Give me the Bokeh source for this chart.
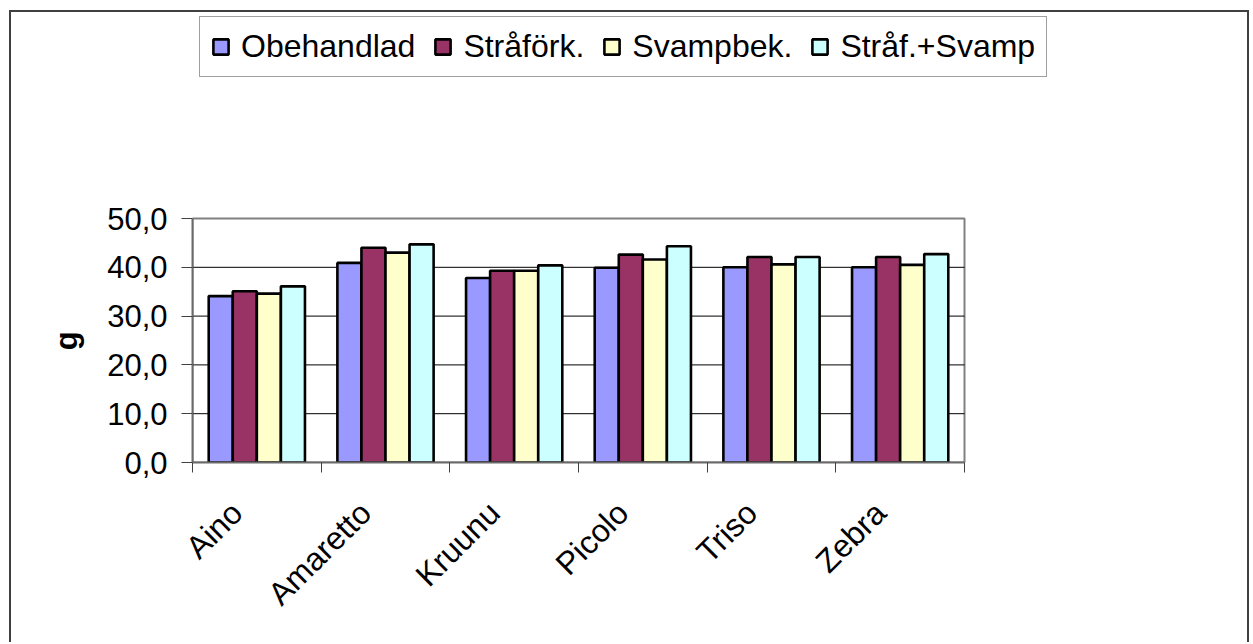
import numpy as np
from bokeh.plotting import figure
from bokeh.models import (ColumnDataSource, FixedTicker, Range1d, Legend, LegendItem,
                          BoxAnnotation)
from bokeh.transform import dodge
from bokeh.embed import file_html
from bokeh.resources import INLINE

categories = ["Aino", "Amaretto", "Kruunu", "Picolo", "Triso", "Zebra"]
series_names = ["Obehandlad", "Stråförk.", "Svampbek.", "Stråf.+Svamp"]
obehandlad = [34.1, 40.9, 37.8, 39.9, 40.0, 40.0]
strafork = [35.1, 44.0, 39.3, 42.6, 42.1, 42.1]
svampbek = [34.6, 43.0, 39.3, 41.6, 40.6, 40.5]
straf_svamp = [36.1, 44.7, 40.4, 44.3, 42.1, 42.7]
y_ticks = [0, 10, 20, 30, 40, 50]
y_tick_labels = ["0,0", "10,0", "20,0", "30,0", "40,0", "50,0"]
y_title = "g"

colors = ["#9999FF", "#993366", "#FFFFCC", "#CCFFFF"]
FONT = "Liberation Sans"
FS = "31px"

# layout (pixels)
W, H = 1240, 632
ML, MB = 181, 182
AREA_W, AREA_H = 772, 244        # plot area size in pixels
n = len(categories)
ymax = y_ticks[-1]
frame_w = W - ML
frame_h = H - MB
x_end = n * frame_w / AREA_W
y_end = ymax * frame_h / AREA_H

centers = [i + 0.5 for i in range(n)]
label_pos = [c - 0.155 for c in centers]
source = ColumnDataSource(dict(x=centers, s0=obehandlad, s1=strafork, s2=svampbek, s3=straf_svamp))

p = figure(width=W, height=H, output_backend="svg", toolbar_location=None,
           x_range=Range1d(0, x_end), y_range=Range1d(0, y_end),
           min_border_left=ML, min_border_right=0, min_border_top=0, min_border_bottom=MB)
p.styles = {"margin-left": "9px", "margin-top": "10px",
            "border-top": "2px solid #404040", "border-left": "2px solid #404040",
            "border-right": "2px solid #404040"}
p.outline_line_color = None
p.xgrid.visible = False
p.ygrid.visible = False

# gridlines inside the plot area
gy = y_ticks[1:-1]
p.segment(x0=[0] * len(gy), x1=[n] * len(gy), y0=gy, y1=gy, line_color="black", line_width=1)

# plot-area border
p.add_layout(BoxAnnotation(left=0, right=n, bottom=0, top=ymax, fill_alpha=0,
                           line_color="#808080", line_alpha=1.0, line_width=2,
                           level="underlay"))

bw = 0.187
offsets = [-1.5 * bw, -0.5 * bw, 0.5 * bw, 1.5 * bw]
renderers = []
for k, (col, c) in enumerate(zip(["s0", "s1", "s2", "s3"], colors)):
    r = p.vbar(x=dodge("x", offsets[k], range=p.x_range), top=col, width=bw, bottom=0,
               source=source, fill_color=c, line_color="black", line_width=2.6)
    renderers.append(r)

# x axis
p.xaxis.bounds = (0, n)
p.xaxis.ticker = FixedTicker(ticks=label_pos, minor_ticks=list(range(n + 1)))
p.xaxis.major_label_overrides = {c: lab for c, lab in zip(label_pos, categories)}
p.xaxis.major_tick_out = 0
p.xaxis.major_tick_in = 0
p.xaxis.minor_tick_out = 10
p.xaxis.minor_tick_in = 0
p.xaxis.minor_tick_line_color = "#404040"
p.xaxis.major_label_orientation = np.pi / 4
p.xaxis.major_label_standoff = 35
p.xaxis.major_label_text_font = FONT
p.xaxis.major_label_text_font_size = "32px"
p.xaxis.major_label_text_color = "black"
p.xaxis.axis_line_color = "#6a6a6a"
p.xaxis.axis_line_width = 2

# y axis
p.yaxis.bounds = (0, ymax)
p.yaxis.ticker = FixedTicker(ticks=y_ticks, minor_ticks=[])
p.yaxis.major_label_overrides = {t: l for t, l in zip(y_ticks, y_tick_labels)}
p.yaxis.major_tick_out = 11
p.yaxis.major_tick_in = 0
p.yaxis.major_tick_line_color = "#404040"
p.yaxis.major_label_standoff = 14
p.yaxis.major_label_text_font = FONT
p.yaxis.major_label_text_font_size = FS
p.yaxis.major_label_text_color = "black"
p.yaxis.axis_line_color = "#6a6a6a"
p.yaxis.axis_line_width = 2
# the axis title is centred on the whole frame; trailing no-break spaces move it
# down to the middle of the plot area
p.yaxis.axis_label = y_title + "\u00a0" * 24
p.yaxis.axis_label_text_font = FONT
p.yaxis.axis_label_text_font_size = FS
p.yaxis.axis_label_text_font_style = "bold"
p.yaxis.axis_label_text_color = "black"
p.yaxis.axis_label_standoff = 20

p.background_fill_color = "white"

legend = Legend(items=[LegendItem(label=nm, renderers=[r]) for nm, r in zip(series_names, renderers)],
                orientation="horizontal", location=(7, 385),
                label_text_font=FONT, label_text_font_size="32px", label_text_color="black",
                glyph_width=19, glyph_height=19, label_standoff=11, spacing=18,
                padding=11, margin=0, border_line_color="#404040", border_line_width=1,
                background_fill_alpha=1.0)
p.add_layout(legend, "center")

open("out.html", "w").write(file_html(p, INLINE))
